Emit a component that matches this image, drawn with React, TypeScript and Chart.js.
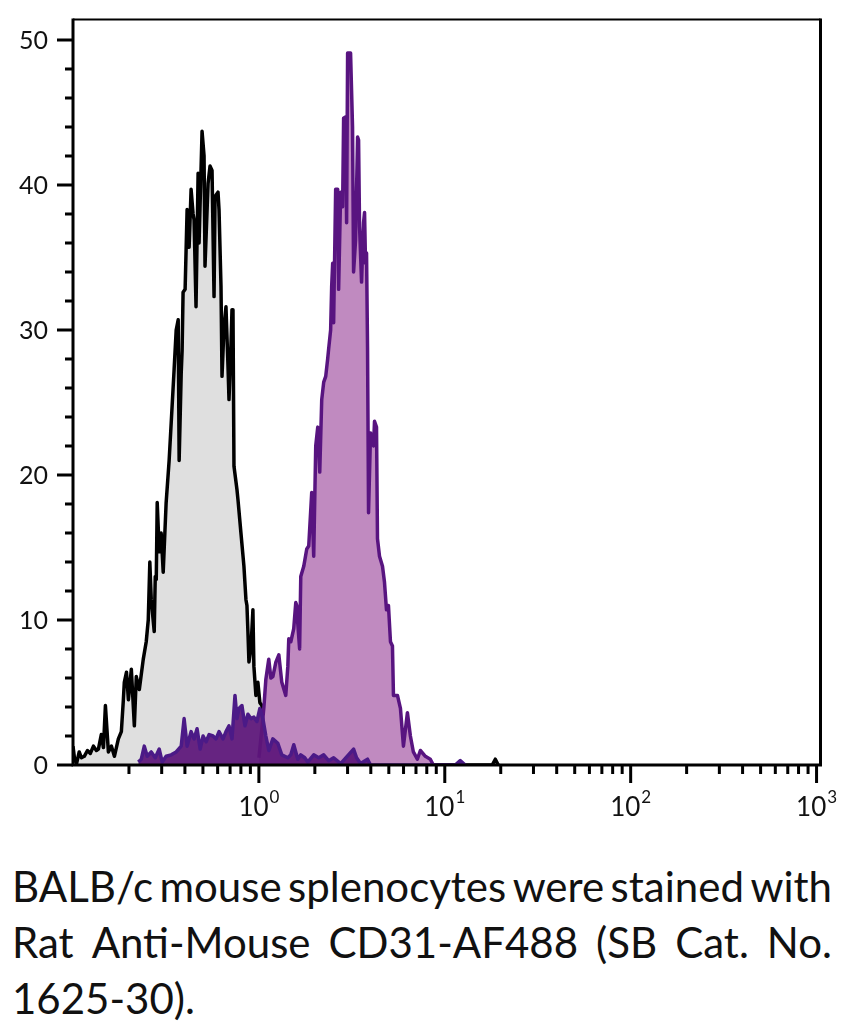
import { useEffect, useRef } from 'react';
import { Chart, registerables } from 'chart.js';

Chart.register(...registerables);

// Unstained control histogram (grey fill, black line): [intensity, count]
const unstainedCounts: [number, number][] = [
  [0.1, 1.3], [0.102, 0.4], [0.1045, 0.1], [0.108, 0.9], [0.111, 0.5], [0.115, 0.6],
  [0.1196, 1.0], [0.124, 0.8], [0.1288, 1.3], [0.1336, 1.0], [0.137, 1.1], [0.142, 2.1],
  [0.1458, 1.2], [0.1494, 4.1], [0.155, 0.9], [0.161, 1.3], [0.167, 0.6], [0.1754, 1.8],
  [0.182, 2.3], [0.1866, 4.5], [0.1888, 5.7], [0.194, 6.4], [0.1986, 4.5], [0.206, 6.6],
  [0.2138, 2.7], [0.219, 6.1], [0.2274, 5.2], [0.2388, 7.3], [0.2477, 8.5], [0.254, 10.0],
  [0.259, 14.0], [0.2636, 11.4], [0.2735, 9.2], [0.277, 13.0], [0.2805, 12.8], [0.2838, 18.1],
  [0.291, 14.7], [0.298, 16.0], [0.3057, 13.3], [0.317, 18.1], [0.329, 21.0], [0.3375, 23.6],
  [0.35, 27.3], [0.359, 30.0], [0.368, 30.7], [0.3724, 21.0], [0.382, 27.0], [0.3864, 28.6],
  [0.391, 32.6], [0.401, 32.8], [0.411, 38.3], [0.4214, 35.7], [0.4318, 39.7], [0.4426, 38.0],
  [0.448, 37.6], [0.459, 31.6], [0.471, 40.8], [0.4766, 36.0], [0.4946, 43.7], [0.507, 42.0],
  [0.513, 34.4], [0.5328, 40.1], [0.5458, 41.3], [0.5597, 41.0], [0.5738, 32.3], [0.5809, 39.2],
  [0.6027, 39.5], [0.6103, 38.3], [0.6254, 33.0], [0.6333, 26.8], [0.649, 30.2], [0.6652, 31.6],
  [0.682, 27.5], [0.6906, 25.2], [0.7077, 29.0], [0.7166, 31.4], [0.7255, 31.4], [0.7345, 20.6],
  [0.7621, 19.0], [0.7717, 18.3], [0.8006, 16.0], [0.8309, 13.7], [0.8518, 11.4], [0.8625, 11.0],
  [0.873, 9.2], [0.8839, 7.1], [0.906, 8.0], [0.9286, 10.7], [0.9401, 6.8], [0.9636, 4.8],
  [0.9877, 5.7], [1.0124, 4.3], [1.0378, 4.1], [1.0506, 3.0], [1.0637, 1.5], [1.0769, 0.5],
  [1.09, 0.0], [18.0, 0.0], [18.7, 0.4], [19.4, 0.0],
];

// CD31-AF488 stained histogram, main population (light purple fill)
const stainedCounts: [number, number][] = [
  [1.0, 0.5], [1.038, 2.5], [1.064, 4.0], [1.09, 5.9], [1.13, 7.3], [1.16, 6.0], [1.189, 6.1],
  [1.234, 7.1], [1.28, 7.6], [1.328, 5.7], [1.395, 4.8], [1.431, 6.8], [1.448, 8.7], [1.485, 8.5],
  [1.54, 9.4], [1.579, 11.2], [1.599, 11.0], [1.618, 9.8], [1.656, 8.0], [1.68, 13.0], [1.743, 13.7],
  [1.809, 14.9], [1.854, 15.1], [1.924, 18.8], [1.972, 14.4], [2.022, 22.0], [2.073, 23.3],
  [2.125, 20.2], [2.178, 25.2], [2.232, 26.4], [2.288, 26.8], [2.344, 28.0], [2.373, 28.7],
  [2.432, 30.0], [2.463, 33.0], [2.494, 34.6], [2.524, 30.5], [2.588, 39.7], [2.653, 39.7],
  [2.685, 32.8], [2.753, 39.5], [2.821, 38.5], [2.856, 44.6], [2.928, 44.7], [2.964, 37.4],
  [3.001, 49.1], [3.113, 49.1], [3.19, 44.0], [3.231, 34.0], [3.312, 36.2], [3.396, 43.3],
  [3.438, 43.1], [3.48, 37.1], [3.567, 33.3], [3.656, 37.4], [3.702, 38.1], [3.747, 34.6],
  [3.794, 35.3], [3.842, 28.7], [3.889, 17.4], [3.986, 22.9], [4.137, 22.0], [4.188, 23.7],
  [4.293, 23.3], [4.345, 15.6], [4.455, 14.4], [4.623, 13.7], [4.739, 12.6], [4.857, 10.7],
  [4.978, 11.0], [5.103, 8.5], [5.23, 8.2], [5.296, 4.8], [5.565, 4.8], [5.774, 3.9],
  [5.992, 1.3], [6.295, 3.6], [6.531, 2.0], [6.778, 0.9], [7.12, 0.4], [7.391, 1.0],
  [7.862, 0.6], [8.361, 0.4], [8.678, 0.0],
];

// Low-level stained events (dark purple)
const lowCounts: [number, number][] = [
  [0.2245, 0.2], [0.233, 0.4], [0.2418, 1.3], [0.2508, 0.6], [0.2636, 0.9], [0.277, 0.5],
  [0.291, 1.1], [0.302, 0.2], [0.317, 0.6], [0.3375, 0.7], [0.359, 0.9], [0.382, 1.3],
  [0.396, 3.2], [0.411, 1.3], [0.4318, 2.3], [0.448, 1.8], [0.465, 2.5], [0.483, 1.1],
  [0.501, 2.0], [0.52, 1.6], [0.54, 2.1], [0.5667, 2.0], [0.5881, 1.8], [0.6103, 2.3],
  [0.6412, 1.8], [0.6652, 2.3], [0.6906, 2.7], [0.7166, 1.8], [0.7437, 4.8], [0.7621, 3.2],
  [0.7812, 3.9], [0.8105, 4.1], [0.8414, 2.7], [0.873, 3.5], [0.906, 3.2], [0.9401, 3.3],
  [0.9756, 3.0], [1.0124, 3.9], [1.0506, 3.2], [1.09, 2.0], [1.1315, 1.0], [1.1886, 1.8],
  [1.2644, 1.5], [1.328, 0.7], [1.431, 0.5], [1.485, 0.7], [1.5405, 1.4], [1.6185, 0.4],
  [1.68, 0.7], [1.765, 0.5], [1.831, 0.2], [1.972, 0.7], [2.099, 0.5], [2.232, 0.7],
  [2.373, 0.3], [2.5245, 0.5], [2.753, 0.1], [3.231, 1.1], [3.354, 0.5], [3.523, 0.1],
  [3.8415, 0.4], [3.986, 0.0], [11.38, 0.0], [12.11, 0.3], [12.88, 0.0],
];

const yMajorTicks = [0, 10, 20, 30, 40, 50];
const yMinorTicks = [2, 4, 6, 8, 12, 14, 16, 18, 22, 24, 26, 28, 32, 34, 36, 38, 42, 44, 46, 48];
const xMajorTicks = [1, 10, 100, 1000];
const xMajorExponents = ['0', '1', '2', '3'];
const xMinorTicks = [
  0.2, 0.3, 0.4, 0.5, 0.6, 0.7, 0.8, 0.9,
  2, 3, 4, 5, 6, 7, 8, 9,
  20, 30, 40, 50, 60, 70, 80, 90,
  200, 300, 400, 500, 600, 700, 800, 900,
];

const captionLines = [
  'BALB/c mouse splenocytes were stained with',
  'Rat Anti-Mouse CD31-AF488 (SB Cat. No.',
  '1625-30).',
];

const FONT = 'Lato, "Open Sans", sans-serif';

const axesPlugin = {
  id: 'facsAxes',
  afterDraw(chart: any) {
    const { ctx, chartArea: a, scales } = chart;
    const xs = scales.x;
    const ys = scales.y;
    ctx.save();
    ctx.strokeStyle = '#000';
    ctx.lineCap = 'butt';

    // frame
    ctx.lineWidth = 2;
    ctx.beginPath();
    ctx.moveTo(a.left, a.top);
    ctx.lineTo(a.right, a.top);
    ctx.stroke();
    ctx.lineWidth = 3;
    ctx.beginPath();
    ctx.moveTo(a.left, a.top - 1);
    ctx.lineTo(a.left, a.bottom + 1.5);
    ctx.moveTo(a.left - 1.5, a.bottom);
    ctx.lineTo(a.right + 1.5, a.bottom);
    ctx.moveTo(a.right, a.top - 1);
    ctx.lineTo(a.right, a.bottom);
    ctx.stroke();

    // y ticks
    ctx.lineWidth = 3;
    ctx.beginPath();
    yMajorTicks.forEach((v) => {
      const p = ys.getPixelForValue(v);
      ctx.moveTo(a.left, p);
      ctx.lineTo(a.left - 16, p);
    });
    yMinorTicks.forEach((v) => {
      const p = ys.getPixelForValue(v);
      ctx.moveTo(a.left, p);
      ctx.lineTo(a.left - 8, p);
    });
    // x ticks
    xMajorTicks.forEach((v) => {
      const p = xs.getPixelForValue(v);
      ctx.moveTo(p, a.bottom);
      ctx.lineTo(p, a.bottom + 18);
    });
    xMinorTicks.forEach((v) => {
      const p = xs.getPixelForValue(v);
      ctx.moveTo(p, a.bottom);
      ctx.lineTo(p, a.bottom + 9);
    });
    ctx.stroke();

    // y labels
    ctx.fillStyle = '#111';
    ctx.font = `25px ${FONT}`;
    ctx.textAlign = 'right';
    ctx.textBaseline = 'middle';
    yMajorTicks.forEach((v) => {
      ctx.fillText(String(v), a.left - 25, ys.getPixelForValue(v) + 1);
    });

    // x labels: 10^n
    ctx.textAlign = 'left';
    ctx.textBaseline = 'alphabetic';
    xMajorTicks.forEach((v, i) => {
      const p = xs.getPixelForValue(v);
      ctx.font = `26px ${FONT}`;
      const wb = ctx.measureText('10').width;
      ctx.font = `17px ${FONT}`;
      const ws = ctx.measureText(xMajorExponents[i]).width;
      const start = p - (wb + ws + 1) / 2;
      ctx.font = `26px ${FONT}`;
      ctx.fillText('10', start, a.bottom + 51);
      ctx.font = `17px ${FONT}`;
      ctx.fillText(xMajorExponents[i], start + wb + 1, a.bottom + 38);
    });
    ctx.restore();
  },
};

function JustifiedLine({ text }: { text: string }) {
  const words = text.split(' ');
  return (
    <div style={{ display: 'flex', justifyContent: 'space-between', whiteSpace: 'nowrap' }}>
      {words.map((w, i) => (
        <span key={i}>{w}</span>
      ))}
    </div>
  );
}

export default function App() {
  const ref = useRef<HTMLCanvasElement | null>(null);

  useEffect(() => {
    if (!ref.current) return;
    const toPts = (arr: [number, number][]) => arr.map(([x, y]) => ({ x, y }));
    const chart = new Chart(ref.current, {
      type: 'line',
      data: {
        datasets: [
          {
            label: 'low',
            data: toPts(lowCounts),
            borderColor: '#4b1a87',
            backgroundColor: 'rgba(92,22,122,0.93)',
            borderWidth: 3.5,
            fill: 'origin',
            pointRadius: 0,
            tension: 0,
            borderJoinStyle: 'round',
            order: 0,
          },
          {
            label: 'CD31',
            data: toPts(stainedCounts),
            borderColor: '#581480',
            backgroundColor: '#c08ac0',
            borderWidth: 3.5,
            fill: 'origin',
            pointRadius: 0,
            tension: 0,
            borderJoinStyle: 'round',
            order: 1,
          },
          {
            label: 'unstained',
            data: toPts(unstainedCounts),
            borderColor: '#000000',
            backgroundColor: '#dfdfdf',
            borderWidth: 3.5,
            fill: 'origin',
            pointRadius: 0,
            tension: 0,
            borderJoinStyle: 'round',
            order: 2,
          },
        ],
      },
      options: {
        responsive: false,
        maintainAspectRatio: false,
        animation: false,
        devicePixelRatio: 1,
        layout: { padding: { left: 73, right: 29.5, top: 19.5, bottom: 85 } },
        plugins: { legend: { display: false }, tooltip: { enabled: false } },
        events: [],
        scales: {
          x: { type: 'logarithmic', min: 0.1, max: 1050, display: false },
          y: { type: 'linear', min: 0, max: 51.41, display: false },
        },
      },
      plugins: [axesPlugin],
    });
    return () => chart.destroy();
  }, []);

  return (
    <div>
      <div style={{ position: 'absolute', left: 0, top: 0, width: 850, height: 850 }}>
        <canvas ref={ref} width={850} height={850} style={{ width: 850, height: 850, display: 'block' }} />
      </div>
      <div
        style={{
          position: 'absolute',
          left: 12,
          top: 858,
          width: 820,
          fontFamily: FONT,
          fontSize: 42,
          lineHeight: '56px',
          color: '#111',
        }}
      >
        <JustifiedLine text={captionLines[0]} />
        <JustifiedLine text={captionLines[1]} />
        <div style={{ whiteSpace: 'nowrap' }}>{captionLines[2]}</div>
      </div>
    </div>
  );
}
